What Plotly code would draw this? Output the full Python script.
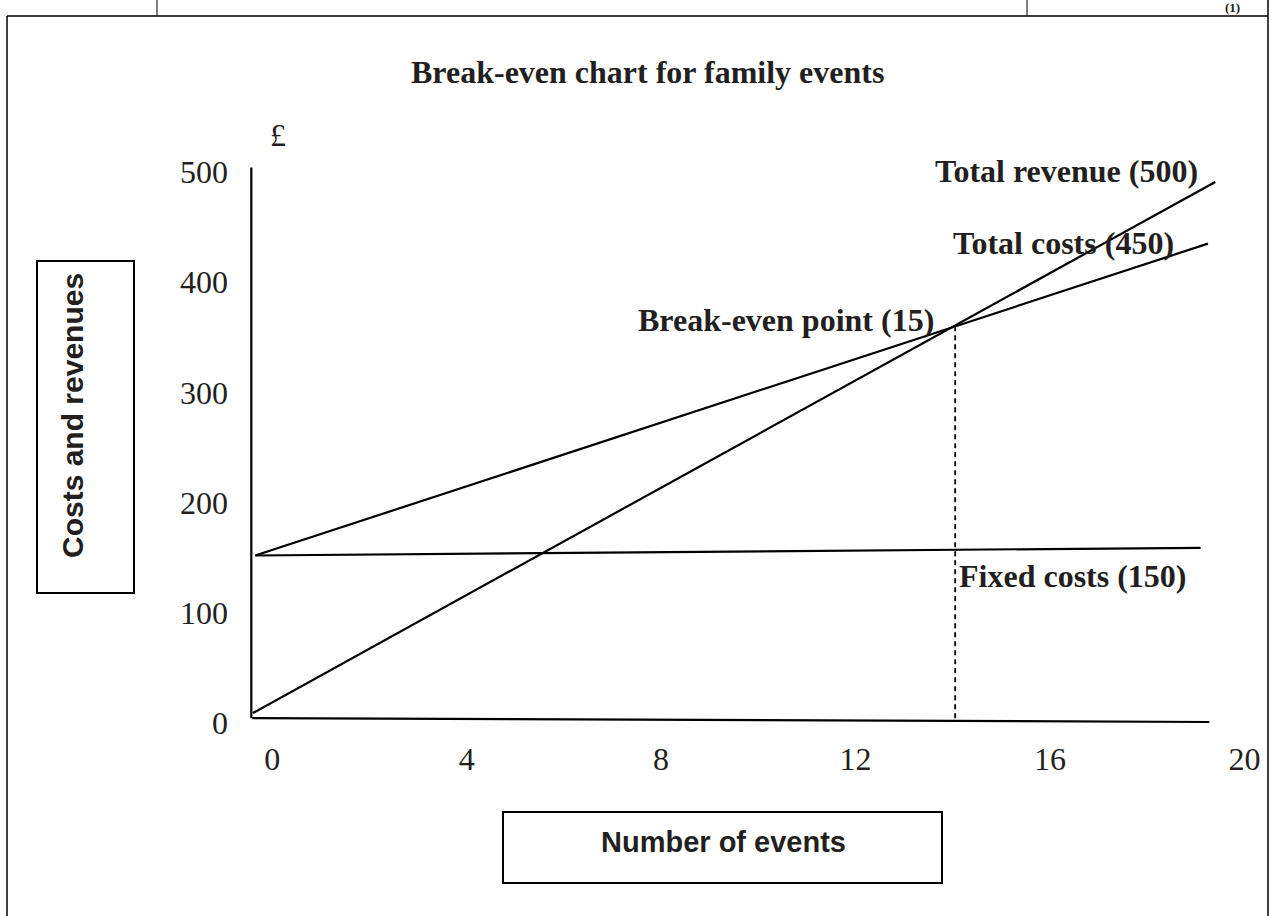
import plotly.graph_objects as go

W, H = 1273, 916

# ---- data ----
x_ticks = [0, 4, 8, 12, 16, 20]
x_tick_text = ["0", "4", "8", "12", "16", "20"]
y_ticks = [0, 100, 200, 300, 400, 500]
y_tick_text = ["0", "100", "200", "300", "400", "500"]

revenue_x = [-0.4, 19.4]
revenue_y = [9, 491]
costs_x = [-0.35, 19.25]
costs_y = [152, 435]
fixed_x = [-0.35, 19.1]
fixed_y = [152, 159]
breakeven_x = [14.05, 14.05]
breakeven_y = [360, 1]
yaxis_line_x = [-0.43, -0.43]
yaxis_line_y = [504, 4.5]
xaxis_line_x = [-0.41, 19.28]
xaxis_line_y = [4.5, 0.9]

# ---- layout helpers (pixel geometry) ----
X0_PX, X_PER_UNIT = 272.2, 48.61
Y0_PX, Y_PER_UNIT = 723.0, 1.102
x_range = [-X0_PX / X_PER_UNIT, (W - X0_PX) / X_PER_UNIT]
y_range = [(Y0_PX - H) / Y_PER_UNIT, Y0_PX / Y_PER_UNIT]


def px(x):
    return x / W


def py(y):
    return 1 - y / H


INK = "#231f20"
SERIF = "Liberation Serif, Times New Roman, serif"
SANS = "Liberation Sans, Arial, sans-serif"

fig = go.Figure()


def add_line(xs, ys, width=2.2, dash=None):
    fig.add_trace(go.Scatter(
        x=xs, y=ys, mode="lines",
        line=dict(color="black", width=width, dash=dash),
        hoverinfo="skip", showlegend=False))


add_line(yaxis_line_x, yaxis_line_y)
add_line(xaxis_line_x, xaxis_line_y)
add_line(fixed_x, fixed_y)
add_line(costs_x, costs_y)
add_line(revenue_x, revenue_y)
add_line(breakeven_x, breakeven_y, 1.8, "5px,4px")

shapes = []
# outer page frame
shapes.append(dict(type="line", xref="paper", yref="paper",
                   x0=px(7), x1=px(7), y0=py(16), y1=py(H + 2),
                   line=dict(color="black", width=1.5)))
shapes.append(dict(type="line", xref="paper", yref="paper",
                   x0=px(1268), x1=px(1268), y0=py(0), y1=py(H + 2),
                   line=dict(color="black", width=1.5)))
shapes.append(dict(type="line", xref="paper", yref="paper",
                   x0=px(7), x1=px(1268), y0=py(16), y1=py(16),
                   line=dict(color="black", width=1.5)))
for vx in [157, 1027]:
    shapes.append(dict(type="line", xref="paper", yref="paper",
                       x0=px(vx), x1=px(vx), y0=py(0), y1=py(16),
                       line=dict(color="black", width=1)))
# axis title boxes
shapes.append(dict(type="rect", xref="paper", yref="paper",
                   x0=px(37), x1=px(134), y0=py(593), y1=py(261),
                   line=dict(color="black", width=2)))
shapes.append(dict(type="rect", xref="paper", yref="paper",
                   x0=px(503), x1=px(942), y0=py(883), y1=py(812),
                   line=dict(color="black", width=2)))


def ann(text, x, y, size=32, bold=True, family=SERIF, angle=0, yanchor="middle"):
    return dict(text=f"<b>{text}</b>" if bold else text,
                x=px(x), y=py(y), xref="paper", yref="paper",
                showarrow=False, xanchor="center", yanchor=yanchor,
                textangle=angle,
                font=dict(family=family, size=size, color=INK))


annotations = [
    ann("Break-even chart for family events", 647, 72),
    ann("£", 278, 135, bold=False),
    ann("Total revenue (500)", 1066, 171),
    ann("Total costs (450)", 1063, 243),
    ann("Break-even point (15)", 786, 320),
    ann("Fixed costs (150)", 1073, 576),
    ann("Costs and revenues", 73, 416, size=30, family=SANS, angle=-90),
    ann("Number of events", 723, 842, size=29, family=SANS),
    ann("(1)", 1232, -2, size=13, yanchor="top"),
]

fig.update_layout(
    width=W, height=H,
    margin=dict(l=0, r=0, t=0, b=0),
    paper_bgcolor="white", plot_bgcolor="white",
    showlegend=False,
    shapes=shapes,
    annotations=annotations,
    xaxis=dict(range=x_range, domain=[0, 1], anchor="free", position=py(737),
               tickvals=x_ticks, ticktext=x_tick_text, ticks="",
               showgrid=False, zeroline=False, showline=False,
               tickfont=dict(family=SERIF, size=32, color=INK),
               fixedrange=True),
    yaxis=dict(range=y_range, domain=[0, 1], anchor="free", position=px(228),
               tickvals=y_ticks, ticktext=y_tick_text, ticks="",
               showgrid=False, zeroline=False, showline=False,
               tickfont=dict(family=SERIF, size=32, color=INK),
               fixedrange=True),
)

fig.write_html("out.html", config={"displayModeBar": False},
               post_script="document.body.style.margin='0';document.body.style.overflow='hidden';")
